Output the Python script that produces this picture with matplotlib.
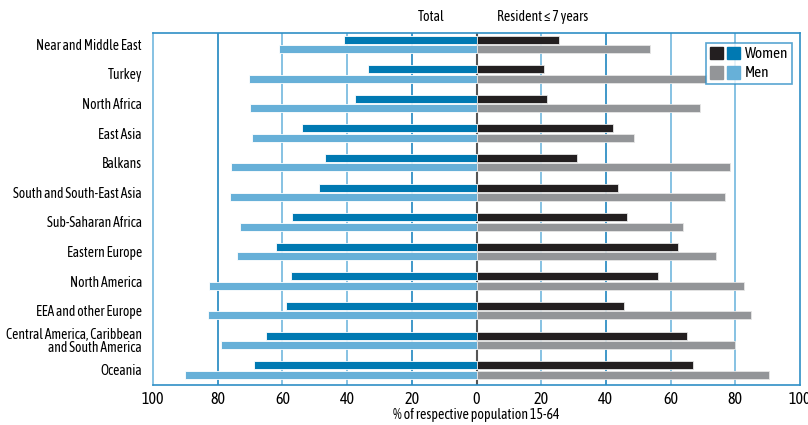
import matplotlib
matplotlib.use("Agg")
import matplotlib.pyplot as plt
import matplotlib.patches as mpatches
from matplotlib.legend_handler import HandlerTuple
from matplotlib import font_manager
import numpy as np

categories = ["Near and Middle East", "Turkey", "North Africa", "East Asia", "Balkans",
              "South and South-East Asia", "Sub-Saharan Africa", "Eastern Europe",
              "North America", "EEA and other Europe",
              "Central America, Caribbean\nand South America", "Oceania"]
total_women = [41.0, 33.4, 37.7, 53.8, 46.7, 48.7, 57.0, 61.9, 57.3, 58.8, 65.2, 68.7]
total_men = [61.2, 70.3, 70.0, 69.4, 75.8, 76.3, 73.0, 74.0, 82.6, 83.0, 78.9, 90.0]
recent_women = [25.5, 20.8, 21.7, 42.1, 31.0, 43.8, 46.4, 62.2, 56.1, 45.5, 65.0, 66.9]
recent_men = [53.6, 71.1, 69.0, 48.7, 78.3, 76.8, 63.9, 74.1, 82.6, 84.9, 80.0, 90.3]
xticks = [-100, -80, -60, -40, -20, 0, 20, 40, 60, 80, 100]

avail = {f.name for f in font_manager.fontManager.ttflist}
fam = [f for f in ["Asap Condensed", "Archivo Narrow", "Barlow Semi Condensed", "DejaVu Sans"] if f in avail]
plt.rcParams['font.family'] = fam
plt.rcParams['font.size'] = 9.5

C_TW = "#0079b2"
C_TM = "#67b0d8"
C_RW = "#231f20"
C_RM = "#939598"
C_FRAME = "#2f8fc6"
C_GRID_D = "#1f86c0"
C_GRID_L = "#72b8de"

fig = plt.figure(figsize=(8.08, 4.25), dpi=100)
ax = fig.add_axes([153/808, 1-385/425, (800-153)/808, (385-33)/425])

y = np.arange(len(categories))
h = 0.27
off = 0.158

ax.barh(y - off, -np.array(total_women), height=h, color=C_TW, edgecolor="white", linewidth=0.6, zorder=3)
ax.barh(y + off, -np.array(total_men), height=h, color=C_TM, edgecolor="white", linewidth=0.6, zorder=3)
ax.barh(y - off, recent_women, height=h, color=C_RW, edgecolor="#e6e6e6", linewidth=0.6, zorder=3)
ax.barh(y + off, recent_men, height=h, color=C_RM, edgecolor="#e6e6e6", linewidth=0.6, zorder=3)

grid_cols = {-80: C_GRID_D, -60: C_GRID_L, -40: C_GRID_L, -20: C_GRID_D,
             20: C_GRID_L, 40: C_GRID_D, 60: C_GRID_L, 80: C_GRID_L}
for xv, c in grid_cols.items():
    ax.axvline(xv, color=c, lw=1.2, zorder=1)
ax.axvline(0, color="#555555", lw=1.5, zorder=1)

ax.set_xlim(-100, 100)
ax.set_ylim(11.51, -0.385)
ax.set_xticks(xticks)
ax.set_xticklabels([str(abs(v)) for v in xticks], fontsize=11.5)
ax.set_yticks(y)
ax.set_yticklabels(categories, fontsize=9.8, linespacing=0.95)
ax.tick_params(axis="both", length=0)
ax.tick_params(axis="y", pad=8)
ax.tick_params(axis="x", pad=4)
for s in ax.spines.values():
    s.set_color(C_FRAME)
    s.set_linewidth(1.2)
ax.spines["left"].set_color(C_GRID_L)

ax.set_xlabel("% of respective population 15-64", fontsize=10, labelpad=0)

fig.text(431.5/808, 1-17/425, "Total", ha="center", va="center", fontsize=10)
fig.text(542.5/808, 1-17/425, "Resident \u2264 7 years", ha="center", va="center", fontsize=10)

hw = (mpatches.Patch(color=C_RW), mpatches.Patch(color=C_TW))
hm = (mpatches.Patch(color=C_RM), mpatches.Patch(color=C_TM))
leg = ax.legend([hw, hm], ["Women", "Men"],
                handler_map={tuple: HandlerTuple(ndivide=None, pad=0.25)},
                loc="upper right", bbox_to_anchor=(0.988, 0.972), frameon=True,
                fancybox=False, fontsize=11, handlelength=2.0, handleheight=0.9,
                handletextpad=0.3, borderpad=0.25, labelspacing=0.3, borderaxespad=0)
leg.get_frame().set_edgecolor(C_FRAME)
leg.get_frame().set_linewidth(1.2)

fig.savefig("out.png", dpi=100)
